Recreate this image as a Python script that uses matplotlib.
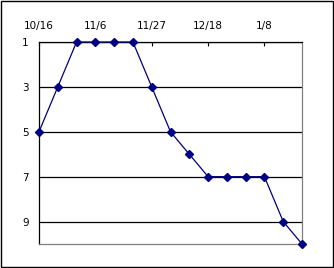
import matplotlib
matplotlib.use("Agg")
import matplotlib.pyplot as plt
from matplotlib.patches import Rectangle

# weekly ranking, lower number = better
dates = ["10/16", "10/23", "10/30", "11/6", "11/13", "11/20", "11/27",
         "12/4", "12/11", "12/18", "12/25", "1/1", "1/8", "1/15", "1/22"]
ranks = [5, 3, 1, 1, 1, 1, 3, 5, 6, 7, 7, 7, 7, 9, 10]
y_ticks = [1, 3, 5, 7, 9]

fig = plt.figure(figsize=(3.34, 2.68), dpi=100)
fig.patch.set_facecolor("white")
fig.patches.append(Rectangle((0.0015, 0.002), 0.996, 0.995, transform=fig.transFigure,
                             fill=False, edgecolor="black", linewidth=1.0))

ax = fig.add_axes([39 / 334, 1 - 244 / 268, 263 / 334, 202 / 268])
x = list(range(len(dates)))
ax.plot(x, ranks, color="#000080", linewidth=0.9, marker="D", markersize=4.2,
        markerfacecolor="#000080", markeredgecolor="#000080", clip_on=False, zorder=3)

ax.set_xlim(0, len(dates) - 1)
ax.set_ylim(10, 1)
ax.set_yticks(y_ticks)
ax.set_yticklabels([str(v) for v in y_ticks], fontsize=7.5)
ax.set_xticks(x[::3])
ax.set_xticklabels(dates[::3], fontsize=7.5)
ax.xaxis.tick_top()
ax.tick_params(axis="x", direction="in", length=3, width=0.8, color="black", pad=8)
ax.tick_params(axis="y", length=0, pad=7.5)
ax.grid(axis="y", color="black", linewidth=0.9)
ax.set_axisbelow(True)

for side in ["left", "top"]:
    ax.spines[side].set_color("black")
    ax.spines[side].set_linewidth(0.9)
for side in ["right", "bottom"]:
    ax.spines[side].set_color("#808080")
    ax.spines[side].set_linewidth(0.9)

fig.savefig("out.png", dpi=100)
